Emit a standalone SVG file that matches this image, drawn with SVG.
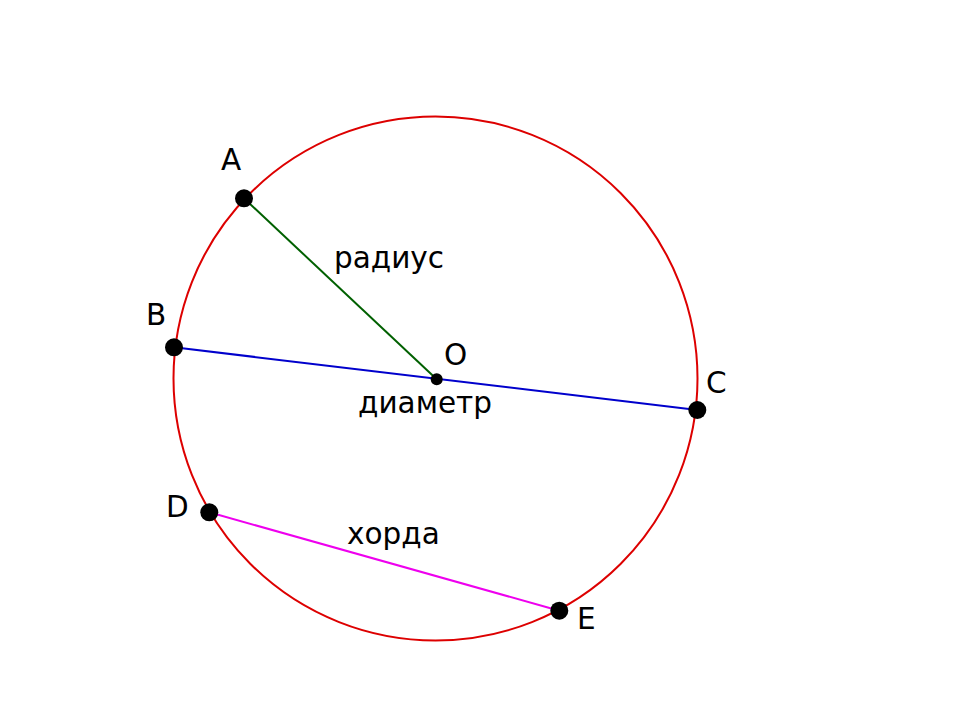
<svg xmlns="http://www.w3.org/2000/svg" width="960" height="720" viewBox="0 0 960 720">
<style>
text { font-family: "DejaVu Sans", "Liberation Sans", sans-serif; font-size: 29.5px; fill: #000; }
.pt { fill: #000; }
</style>
<rect width="960" height="720" fill="#fff"/>
<g id="circle"><circle cx="435.5" cy="378.5" r="262" fill="none" stroke="#dd0000" stroke-width="2"/></g>
<g id="connectors">
<line x1="244" y1="198.3" x2="436.7" y2="379.3" stroke="#006000" stroke-width="2"/>
<line x1="174" y1="347.3" x2="697.3" y2="410" stroke="#0000cc" stroke-width="2"/>
<line x1="209.3" y1="512.3" x2="559.3" y2="610.7" stroke="#ee00ee" stroke-width="2"/>
</g>
<g id="A"><circle class="pt" cx="244" cy="198.3" r="9"/><text x="221" y="170">A</text></g>
<g id="B"><circle class="pt" cx="174" cy="347.3" r="9"/><text x="146" y="325">B</text></g>
<g id="O"><circle class="pt" cx="436.7" cy="379.3" r="6"/><text x="444" y="365">O</text></g>
<g id="C"><circle class="pt" cx="697.3" cy="410" r="9"/><text x="706" y="393">C</text></g>
<g id="D"><circle class="pt" cx="209.3" cy="512.3" r="9"/><text x="166" y="517">D</text></g>
<g id="E"><circle class="pt" cx="559.3" cy="610.7" r="9"/><text x="577" y="629">E</text></g>
<g id="labels">
<text x="334" y="268">радиус</text>
<text x="358" y="413">диаметр</text>
<text x="347" y="544">хорда</text>
</g>
</svg>
